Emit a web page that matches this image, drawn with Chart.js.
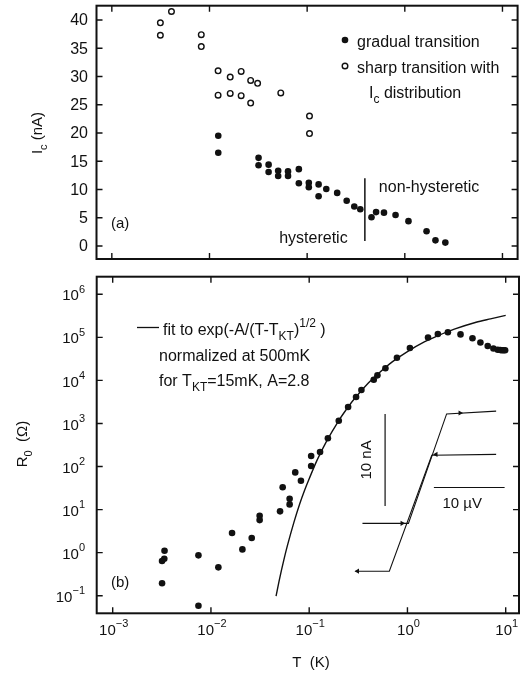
<!DOCTYPE html>
<html>
<head>
<meta charset="utf-8">
<script src="https://cdn.jsdelivr.net/npm/chart.js@4.4.0/dist/chart.umd.min.js"></script>
<style>
  html, body { margin: 0; padding: 0; background: #fff; }
  #wrap { position: relative; width: 523px; height: 675px; overflow: hidden; }
  canvas { position: absolute; }
  #topChart { left: 0; top: 0; }
  #bottomChart { left: 0; top: 270px; }
  #insetChart { left: 340px; top: 400px; }
</style>
</head>
<body>
<div id="wrap">
  <canvas id="topChart" width="523" height="270"></canvas>
  <canvas id="bottomChart" width="523" height="405"></canvas>
  <canvas id="insetChart" width="180" height="190"></canvas>
</div>
<script>
// (a) critical current vs temperature
const gradualT  = [0.0123, 0.0123, 0.0318, 0.0318, 0.0403, 0.0403, 0.0505, 0.0505, 0.0637, 0.0637,
                   0.0822, 0.0822, 0.104, 0.104, 0.131, 0.131, 0.157, 0.203, 0.254, 0.304,
                   0.35, 0.456, 0.508, 0.612, 0.804, 1.09, 1.67, 2.06, 2.6];
const gradualIc = [19.5, 16.5, 15.6, 14.3, 14.4, 13.1, 13.3, 12.4, 13.2, 12.4,
                   13.6, 11.1, 11.2, 10.4, 10.9, 8.8, 10.1, 9.4, 8.0, 7.0,
                   6.5, 5.1, 6.0, 5.9, 5.5, 4.4, 2.6, 1.0, 0.6];
const sharpT  = [0.00314, 0.00314, 0.00408, 0.00824, 0.00824, 0.01225, 0.01225, 0.0163, 0.0163,
                 0.0211, 0.0211, 0.0264, 0.0264, 0.0311, 0.0537, 0.1057, 0.1057];
const sharpIc = [39.5, 37.3, 41.5, 37.4, 35.3, 31.0, 26.7, 29.9, 27.0,
                 30.9, 26.6, 29.3, 25.3, 28.8, 27.1, 23.0, 19.9];
const hysteresisT = 0.39;          // boundary hysteretic / non-hysteretic
const hysteresisIc = [12.0, 0.9];

// (b) zero-bias resistance vs temperature
const r0T = [0.00337, 0.00335, 0.00318, 0.00318, 0.00746, 0.00746, 0.0119, 0.0164, 0.0209, 0.0260,
             0.0313, 0.0313, 0.0505, 0.0537, 0.0632, 0.0632, 0.0721, 0.0824, 0.1047, 0.1047,
             0.129, 0.155, 0.200, 0.249, 0.300, 0.340, 0.454, 0.495, 0.597, 0.782,
             1.06, 1.62, 2.04, 2.58, 3.47, 4.59, 5.53, 6.56, 7.50, 8.29,
             8.8, 9.10, 9.5, 9.86];
const r0R = [1.11, 0.72, 0.64, 0.194, 0.865, 0.0585, 0.456, 2.85, 1.19, 2.18,
             7.2, 5.7, 9.1, 32.9, 17.9, 13.2, 73, 46.8, 103, 175,
             217, 452, 1160, 2410, 4110, 5990, 10400, 13100, 19100, 33600,
             56600, 99000, 120000, 131000, 117000, 95000, 76000, 63000, 55000, 51500,
             50800, 50300, 50100, 50000];
const fitT = [0.046, 0.05, 0.055, 0.06, 0.07, 0.08, 0.09, 0.1, 0.12, 0.15, 0.2, 0.25,
              0.3, 0.4, 0.5, 0.7, 1, 1.5, 2, 3, 5, 7, 10];
const fitR = [0.098, 0.25, 0.65, 1.45, 5.1, 13.5, 28.5, 52, 139, 385, 1170, 2450,
              4170, 8700, 14100, 26900, 46800, 79400, 107000, 155000, 224000, 269000, 324000];

// inset: I-V trace (uV, nA)
const upV   = [-8.2, -1.7, 3.7, 10.7];
const upI   = [-3.4, -3.4, 8.5, 8.8];
const downV = [10.7, 1.6, -4.4, -9.2];
const downI = [4.1, 4.0, -8.6, -8.6];
const arrowV = [-2.6, 5.6, 2.2, -8.9];
const arrowI = [-3.4, 8.6, 4.1, -8.6];
const arrowRot = [90, 90, -90, -90];

// tick labels
const icTicks = [0, 5, 10, 15, 20, 25, 30, 35, 40];
const tExp = [-3, -2, -1, 0, 1];
const rExp = [-1, 0, 1, 2, 3, 4, 5, 6];

const INK = '#111';
const FONT = '"Liberation Sans", Arial, sans-serif';

function font(size) { return size + 'px ' + FONT; }

// draws text pieces with sub/superscripts, vertically centered on y
function richText(ctx, parts, x, y, size, align) {
    const small = Math.round(size * 0.72);
    let total = 0;
    parts.forEach(p => { ctx.font = font(p[1] ? small : size); total += ctx.measureText(p[0]).width; });
    let cx = align === 'center' ? x - total / 2 : (align === 'right' ? x - total : x);
    ctx.textAlign = 'left';
    ctx.textBaseline = 'middle';
    parts.forEach(p => {
        ctx.font = font(p[1] ? small : size);
        const dy = p[1] === 'sub' ? size * 0.38 : (p[1] === 'sup' ? -size * 0.45 : 0);
        ctx.fillText(p[0], cx, y + dy);
        cx += ctx.measureText(p[0]).width;
    });
}

function frameAndTicks(chart, yValues) {
    const ctx = chart.ctx;
    const a = chart.chartArea;
    const x = chart.scales.x, y = chart.scales.y;
    ctx.save();
    ctx.strokeStyle = INK;
    ctx.lineWidth = 2;
    ctx.strokeRect(a.left, a.top, a.right - a.left, a.bottom - a.top);
    ctx.lineWidth = 1.4;
    ctx.beginPath();
    tExp.forEach(e => {
        const px = x.getPixelForValue(Math.pow(10, e));
        ctx.moveTo(px, a.top); ctx.lineTo(px, a.top + 6);
        ctx.moveTo(px, a.bottom); ctx.lineTo(px, a.bottom - 6);
    });
    yValues.forEach(v => {
        const py = y.getPixelForValue(v);
        ctx.moveTo(a.left, py); ctx.lineTo(a.left + 6, py);
        ctx.moveTo(a.right, py); ctx.lineTo(a.right - 6, py);
    });
    ctx.stroke();
    ctx.restore();
}

const topDecor = {
    id: 'topDecor',
    afterDraw(chart) {
        const ctx = chart.ctx;
        const x = chart.scales.x, y = chart.scales.y;
        frameAndTicks(chart, icTicks);
        ctx.save();
        ctx.fillStyle = INK;
        ctx.strokeStyle = INK;
        // y tick labels
        ctx.font = font(16);
        ctx.textAlign = 'right';
        ctx.textBaseline = 'middle';
        icTicks.forEach(v => ctx.fillText(String(v), 88, y.getPixelForValue(v) + 1));
        // y title
        ctx.save();
        ctx.translate(38, 133);
        ctx.rotate(-Math.PI / 2);
        richText(ctx, [['I', ''], ['c', 'sub'], [' (nA)', '']], 0, 0, 15, 'center');
        ctx.restore();
        // legend
        ctx.beginPath();
        ctx.arc(345, 40, 3.3, 0, Math.PI * 2);
        ctx.fill();
        ctx.beginPath();
        ctx.lineWidth = 1.4;
        ctx.arc(345, 66, 2.8, 0, Math.PI * 2);
        ctx.stroke();
        richText(ctx, [['gradual transition', '']], 357, 43, 16, 'left');
        richText(ctx, [['sharp transition with', '']], 357, 69, 16, 'left');
        richText(ctx, [['I', ''], ['c', 'sub'], [' distribution', '']], 369, 94, 16, 'left');
        // panel label and regime annotations
        richText(ctx, [['(a)', '']], 111, 224, 15, 'left');
        richText(ctx, [['hysteretic', '']], x.getPixelForValue(0.116), y.getPixelForValue(1.4), 16, 'center');
        richText(ctx, [['non-hysteretic', '']], x.getPixelForValue(0.542), y.getPixelForValue(10.4), 16, 'left');
        const bx = x.getPixelForValue(hysteresisT);
        ctx.lineWidth = 1.5;
        ctx.beginPath();
        ctx.moveTo(bx, y.getPixelForValue(hysteresisIc[0]));
        ctx.lineTo(bx, y.getPixelForValue(hysteresisIc[1]));
        ctx.stroke();
        ctx.restore();
    }
};

const bottomDecor = {
    id: 'bottomDecor',
    afterDraw(chart) {
        const ctx = chart.ctx;
        const x = chart.scales.x, y = chart.scales.y;
        const a = chart.chartArea;
        frameAndTicks(chart, rExp.map(e => Math.pow(10, e)));
        ctx.save();
        ctx.fillStyle = INK;
        ctx.strokeStyle = INK;
        // y tick labels
        rExp.forEach(e => richText(ctx, [['10', ''], [e < 0 ? '\u2212' + (-e) : String(e), 'sup']],
            85, y.getPixelForValue(Math.pow(10, e)) + 2, 15, 'right'));
        // x tick labels
        tExp.forEach(e => richText(ctx, [['10', ''], [e < 0 ? '\u2212' + (-e) : String(e), 'sup']],
            x.getPixelForValue(Math.pow(10, e)) + 1, a.bottom + 17.5, 15, 'center'));
        // titles
        richText(ctx, [['T  (K)', '']], 311, 393, 15, 'center');
        ctx.save();
        ctx.translate(23, 174);
        ctx.rotate(-Math.PI / 2);
        richText(ctx, [['R', ''], ['0', 'sub'], ['  (\u03A9)', '']], 0, 0, 15, 'center');
        ctx.restore();
        // fit legend
        ctx.lineWidth = 1.3;
        ctx.beginPath();
        ctx.moveTo(137, 57.5);
        ctx.lineTo(159, 57.5);
        ctx.stroke();
        richText(ctx, [['fit to exp(-A/(T-T', ''], ['KT', 'sub'], [')', ''], ['1/2', 'sup'], [' )', '']], 163, 61, 16, 'left');
        richText(ctx, [['normalized at 500mK', '']], 159, 87, 16, 'left');
        richText(ctx, [['for T', ''], ['KT', 'sub'], ['=15mK, A=2.8', '']], 159, 112, 16, 'left');
        richText(ctx, [['(b)', '']], 111, 313, 15, 'left');
        ctx.restore();
    }
};

const insetDecor = {
    id: 'insetDecor',
    afterDraw(chart) {
        const ctx = chart.ctx;
        const x = chart.scales.x, y = chart.scales.y;
        ctx.save();
        ctx.fillStyle = INK;
        ctx.translate(x.getPixelForValue(-7.6), y.getPixelForValue(3.5));
        ctx.rotate(-Math.PI / 2);
        richText(ctx, [['10 nA', '']], 0, 0, 15, 'center');
        ctx.restore();
        ctx.save();
        ctx.fillStyle = INK;
        richText(ctx, [['10 \u00B5V', '']], x.getPixelForValue(5.9), y.getPixelForValue(-1.3), 15, 'center');
        ctx.restore();
    }
};

const common = {
    responsive: false,
    animation: false,
    events: [],
    plugins: { legend: { display: false }, tooltip: { enabled: false } }
};

const pairs = (xs, ys) => xs.map((v, i) => ({ x: v, y: ys[i] }));

new Chart(document.getElementById('topChart'), {
    type: 'scatter',
    data: {
        datasets: [
            { data: pairs(gradualT, gradualIc), pointRadius: 3.3, backgroundColor: INK, borderColor: INK, borderWidth: 0 },
            { data: pairs(sharpT, sharpIc), pointRadius: 2.8, backgroundColor: '#fff', borderColor: INK, borderWidth: 1.4 }
        ]
    },
    options: Object.assign({}, common, {
        layout: { padding: { left: 96.5, right: 0.7, top: 5.7, bottom: 11 } },
        scales: {
            x: { type: 'logarithmic', display: false, min: Math.pow(10, -3.157), max: Math.pow(10, 1.155) },
            y: { type: 'linear', display: false, min: -2.3, max: 42.53 }
        }
    }),
    plugins: [topDecor]
});

new Chart(document.getElementById('bottomChart'), {
    type: 'scatter',
    data: {
        datasets: [
            { data: pairs(fitT, fitR), showLine: true, pointRadius: 0, borderColor: INK, borderWidth: 1.4, tension: 0.3, fill: false },
            { data: pairs(r0T, r0R), pointRadius: 3.3, backgroundColor: INK, borderColor: INK, borderWidth: 0 }
        ]
    },
    options: Object.assign({}, common, {
        layout: { padding: { left: 96.7, right: 1, top: 6.7, bottom: 61.7 } },
        scales: {
            x: { type: 'logarithmic', display: false, min: Math.pow(10, -3.1628), max: Math.pow(10, 1.1354) },
            y: { type: 'logarithmic', display: false, min: Math.pow(10, -1.4088), max: Math.pow(10, 6.4088) }
        }
    }),
    plugins: [bottomDecor]
});

new Chart(document.getElementById('insetChart'), {
    type: 'scatter',
    data: {
        datasets: [
            { data: pairs(upV, upI), showLine: true, pointRadius: 0, borderColor: INK, borderWidth: 1.1 },
            { data: pairs(downV, downI), showLine: true, pointRadius: 0, borderColor: INK, borderWidth: 1.1 },
            { data: [{ x: -5.0, y: -1.5 }, { x: -5.0, y: 8.5 }], showLine: true, pointRadius: 0, borderColor: INK, borderWidth: 1.2 },
            { data: [{ x: 1.9, y: 0.5 }, { x: 11.9, y: 0.5 }], showLine: true, pointRadius: 0, borderColor: INK, borderWidth: 1.2 },
            { data: pairs(arrowV, arrowI), pointStyle: 'triangle', pointRadius: 3, rotation: arrowRot,
              backgroundColor: INK, borderColor: INK, borderWidth: 0 }
        ]
    },
    options: Object.assign({}, common, {
        layout: { padding: 0 },
        scales: {
            x: { type: 'linear', display: false, min: -10.81, max: 13.51 },
            y: { type: 'linear', display: false, min: -10.21, max: 9.58 }
        }
    }),
    plugins: [insetDecor]
});
</script>
</body>
</html>
